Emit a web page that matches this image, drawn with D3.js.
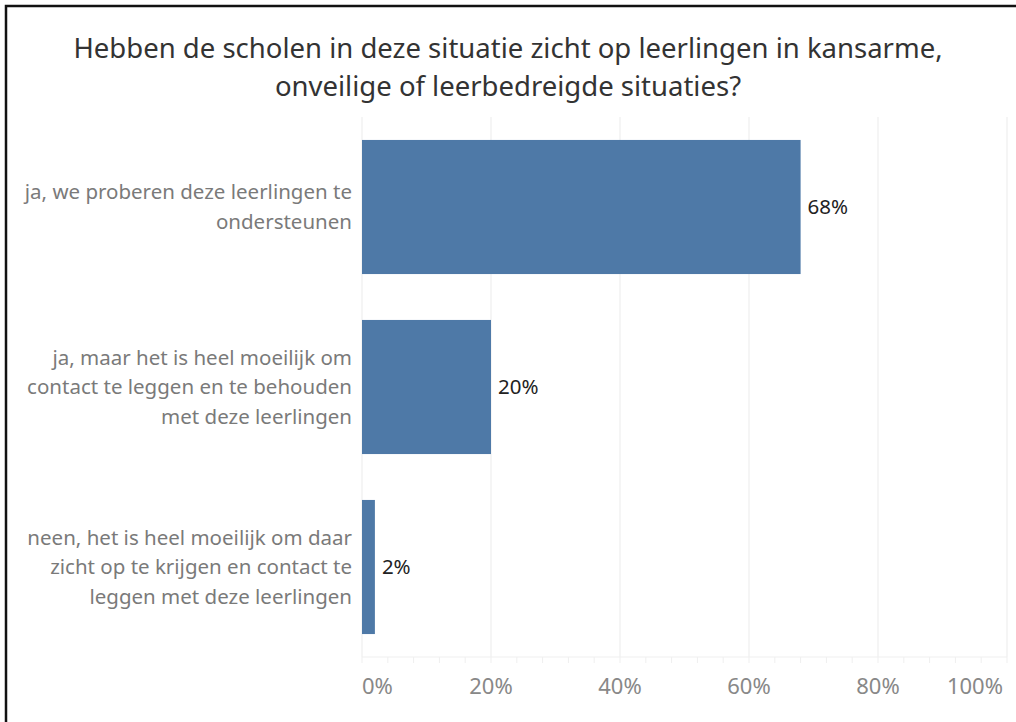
<!DOCTYPE html>
<html>
<head>
<meta charset="utf-8">
<script src="https://cdn.jsdelivr.net/npm/d3@7"></script>
<style>
  body { margin: 0; background: #fff; }
  svg text { font-family: "Noto Sans", "Open Sans", sans-serif; }
</style>
</head>
<body>
<div id="wrapper"></div>
<script>
const titleLines = [
  "Hebben de scholen in deze situatie zicht op leerlingen in kansarme,",
  "onveilige of leerbedreigde situaties?"
]
const categories = [
  ["ja, we proberen deze leerlingen te", "ondersteunen"],
  ["ja, maar het is heel moeilijk om", "contact te leggen en te behouden", "met deze leerlingen"],
  ["neen, het is heel moeilijk om daar", "zicht op te krijgen en contact te", "leggen met deze leerlingen"]
]
const values = [68, 20, 2]
const tickValues = [0, 20, 40, 60, 80, 100]

const dimensions = {
  width: 1016,
  height: 722,
  margin: { top: 117, right: 9, bottom: 65, left: 362 }
}
dimensions.boundedWidth = dimensions.width - dimensions.margin.left - dimensions.margin.right
dimensions.boundedHeight = dimensions.height - dimensions.margin.top - dimensions.margin.bottom

const svg = d3.select("#wrapper")
  .append("svg")
    .attr("width", dimensions.width)
    .attr("height", dimensions.height)

// frame (top + left only)
svg.append("path")
  .attr("d", "M6,1016 V6 H1016")
  .attr("fill", "none")
  .attr("stroke", "#111")
  .attr("stroke-width", 2.5)

svg.append("g")
  .selectAll("text")
  .data(titleLines)
  .join("text")
    .attr("x", 508)
    .attr("y", (d, i) => 48 + i * 38)
    .attr("dy", "0.35em")
    .attr("text-anchor", "middle")
    .attr("fill", "#333")
    .style("font-size", "27.5px")
    .text(d => d)

const bounds = svg.append("g")
  .attr("transform", `translate(${dimensions.margin.left},${dimensions.margin.top})`)

const xScale = d3.scaleLinear()
  .domain([0, 100])
  .range([0, dimensions.boundedWidth])

const yScale = d3.scaleBand()
  .domain(d3.range(values.length))
  .range([0, dimensions.boundedHeight])
  .paddingInner(0.255)
  .paddingOuter(0.1275)

// gridlines
bounds.append("g")
  .selectAll("line")
  .data(tickValues)
  .join("line")
    .attr("x1", d => xScale(d))
    .attr("x2", d => xScale(d))
    .attr("y1", 0)
    .attr("y2", dimensions.boundedHeight)
    .attr("stroke", "#efefef")
    .attr("stroke-width", 1.2)

// axis line + minor ticks
const axisG = bounds.append("g")
  .attr("transform", `translate(0,${dimensions.boundedHeight})`)
axisG.append("line")
  .attr("x1", 0)
  .attr("x2", dimensions.boundedWidth)
  .attr("stroke", "#efefef")
  .attr("stroke-width", 1.2)
axisG.selectAll(".minor")
  .data(d3.range(0, 101, 4))
  .join("line")
    .attr("class", "minor")
    .attr("x1", d => xScale(d))
    .attr("x2", d => xScale(d))
    .attr("y1", 0)
    .attr("y2", 6)
    .attr("stroke", "#efefef")
axisG.selectAll(".tick-label")
  .data(tickValues)
  .join("text")
    .attr("class", "tick-label")
    .attr("x", d => xScale(d) + (d === 100 ? -4 : 0))
    .attr("y", 29)
    .attr("dy", "0.35em")
    .attr("text-anchor", d => d === 0 ? "start" : d === 100 ? "end" : "middle")
    .attr("fill", "#888")
    .style("font-size", "22px")
    .text(d => d + "%")

// bars
bounds.selectAll(".bar")
  .data(values)
  .join("rect")
    .attr("class", "bar")
    .attr("x", 0)
    .attr("y", (d, i) => yScale(i))
    .attr("width", d => xScale(d))
    .attr("height", yScale.bandwidth())
    .attr("fill", "#4e79a7")

// value labels
bounds.selectAll(".value")
  .data(values)
  .join("text")
    .attr("class", "value")
    .attr("x", d => xScale(d) + 7)
    .attr("y", (d, i) => yScale(i) + yScale.bandwidth() / 2)
    .attr("dy", "0.35em")
    .attr("fill", "#222")
    .style("font-size", "20.5px")
    .text(d => d + "%")

// category labels
const catG = bounds.selectAll(".cat")
  .data(categories)
  .join("text")
    .attr("class", "cat")
    .attr("text-anchor", "end")
    .attr("fill", "#7a7a7a")
    .style("font-size", "20.5px")
catG.selectAll("tspan")
  .data((d, i) => d.map((line, j) => ({ line, j, n: d.length, i })))
  .join("tspan")
    .attr("x", -10)
    .attr("y", d => yScale(d.i) + yScale.bandwidth() / 2 + (d.j - (d.n - 1) / 2) * 29.5)
    .attr("dy", "0.35em")
    .text(d => d.line)
</script>
</body>
</html>
